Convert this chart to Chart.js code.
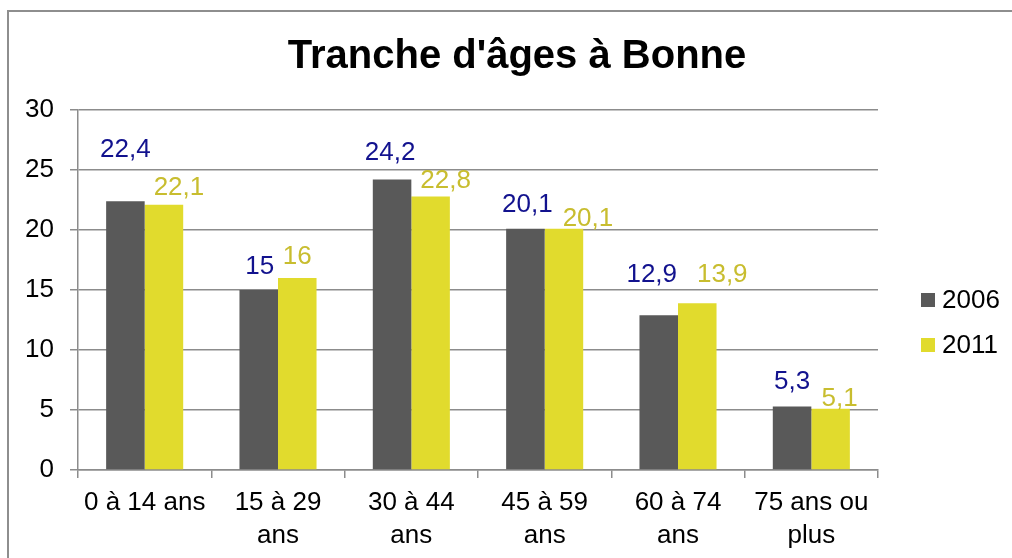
<!DOCTYPE html>
<html>
<head>
<meta charset="utf-8">
<script src="https://cdn.jsdelivr.net/npm/chart.js@4/dist/chart.umd.min.js"></script>
<style>
  html, body { margin: 0; padding: 0; background: #fff; overflow: hidden; }
  #wrap { position: relative; width: 1012px; height: 558px; }
  #frame { position: absolute; left: 7px; top: 10px; width: 1100px; height: 600px; border: 2px solid #8e8e8e; }
  #myChart { position: absolute; left: 0; top: 0; }
</style>
</head>
<body>
<div id="wrap">
  <div id="frame"></div>
  <canvas id="myChart" width="1012" height="558"></canvas>
</div>
<script>
/* DATA */
const categories = [['0 à 14 ans'], ['15 à 29', 'ans'], ['30 à 44', 'ans'], ['45 à 59', 'ans'], ['60 à 74', 'ans'], ['75 ans ou', 'plus']];
const values2006 = [22.4, 15, 24.2, 20.1, 12.9, 5.3];
const values2011 = [22.1, 16, 22.8, 20.1, 13.9, 5.1];
const yTicks = [0, 5, 10, 15, 20, 25, 30];

const chartTitle = "Tranche d'âges à Bonne";
const FONT = "'Liberation Sans', Arial, sans-serif";

// where excel put each value label, relative to the top of its bar
const labelNudge = [
  [[0, -44], [1, -16], [-2, -20], [2, -17], [-7, -33], [0, -17]],
  [[15, -10], [0, -14], [15, -8], [24, -3], [25, -21], [9, -3]],
];
const labelColors = ['#12128e', '#c8bd2f'];

/* little plugin: title, legend and value labels */
const decor = {
  id: 'decor',
  afterDatasetsDraw(chart) {
    const ctx = chart.ctx;
    ctx.save();

    // values
    ctx.font = '26px ' + FONT;
    ctx.textAlign = 'center';
    ctx.textBaseline = 'alphabetic';
    chart.data.datasets.forEach((ds, i) => {
      const meta = chart.getDatasetMeta(i);
      ctx.fillStyle = labelColors[i];
      meta.data.forEach((bar, j) => {
        const n = labelNudge[i][j];
        ctx.fillText(String(ds.data[j]).replace('.', ','), bar.x + n[0], bar.y + n[1]);
      });
    });

    // title
    ctx.fillStyle = '#000';
    ctx.font = 'bold 40px ' + FONT;
    ctx.fillText(chartTitle, 517, 68);

    // legend
    ctx.textAlign = 'left';
    ctx.font = '26px ' + FONT;
    chart.data.datasets.forEach((ds, i) => {
      const y = 293 + i * 45;
      ctx.fillStyle = ds.backgroundColor;
      ctx.fillRect(921, y, 14, 14);
      ctx.fillStyle = '#000';
      ctx.fillText(ds.label, 942, y + 15);
    });

    ctx.restore();
  }
};

const data = {
  labels: categories,
  datasets: [
    {
      label: '2006',
      data: values2006,
      backgroundColor: '#595959',
      categoryPercentage: 0.578,
      barPercentage: 1,
    },
    {
      label: '2011',
      data: values2011,
      backgroundColor: '#e1db2d',
      categoryPercentage: 0.578,
      barPercentage: 1,
    },
  ],
};

const gridGray = '#8c8c8c';

const config = {
  type: 'bar',
  data,
  plugins: [decor],
  options: {
    responsive: false,
    animation: false,
    layout: { padding: { top: 110, right: 134, left: 0, bottom: 0 } },
    plugins: {
      legend: { display: false },
      title: { display: false },
      tooltip: { enabled: false },
    },
    scales: {
      x: {
        offset: true,
        grid: { offset: true, drawOnChartArea: false, drawTicks: true, tickLength: 8, color: gridGray, lineWidth: 1.5 },
        border: { color: gridGray, width: 1.5 },
        ticks: { color: '#000', font: { family: FONT, size: 26, lineHeight: 1.27 }, padding: 8, maxRotation: 0, autoSkip: false },
        afterFit(scale) { scale.height = 88; },
      },
      y: {
        min: 0,
        max: 30,
        afterBuildTicks(scale) { scale.ticks = yTicks.map(v => ({ value: v })); },
        grid: { color: gridGray, lineWidth: 1.5, tickLength: 8 },
        border: { color: gridGray, width: 1.5 },
        ticks: { color: '#000', font: { family: FONT, size: 26 }, padding: 16 },
        afterFit(scale) { scale.width = 78; },
      },
    },
  },
};

document.addEventListener('DOMContentLoaded', () => {
  const canvas = document.getElementById('myChart');
  new Chart(canvas.getContext('2d'), config);
});
</script>
</body>
</html>
